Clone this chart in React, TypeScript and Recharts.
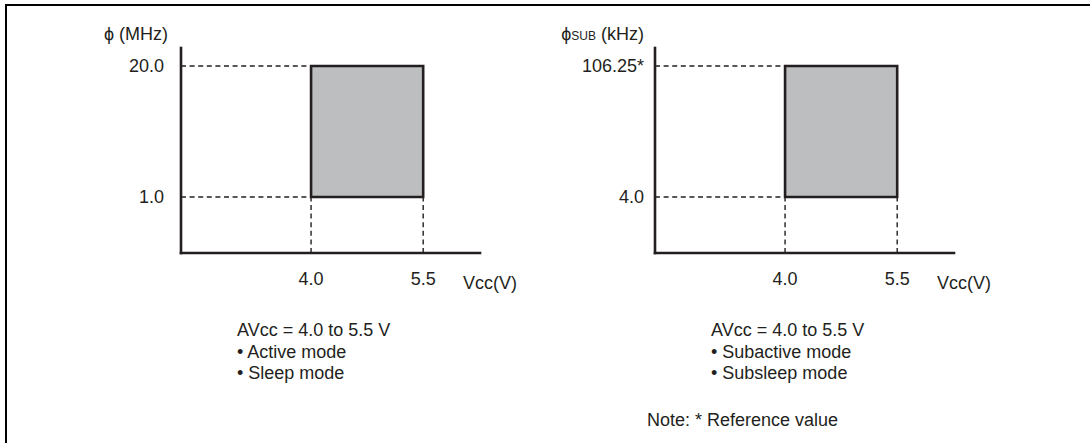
import React from 'react';
import { ComposedChart, XAxis, YAxis, ReferenceArea, ReferenceLine, Scatter, Label } from 'recharts';

// ---- data ----
const vccTicks = [4.0, 5.5];
const vccDomain = [2.26, 6.26];
const phiTicks = [1.0, 20.0];
const phiTickLabels = ['1.0', '20.0'];
const phiDomain = [0.2779, 30.17];
const phiSubTicks = [4.0, 106.25];
const phiSubTickLabels = ['4.0', '106.25*'];
const phiSubDomain = [0.984, 166.8];
const leftNotes = ['AVcc = 4.0 to 5.5 V', '\u2022 Active mode', '\u2022 Sleep mode'];
const rightNotes = ['AVcc = 4.0 to 5.5 V', '\u2022 Subactive mode', '\u2022 Subsleep mode'];
const footnote = 'Note: * Reference value';
const xTitle = 'Vcc(V)';

const INK = '#231f20';
const FILL = '#bcbec0';
const FONT = '"Liberation Sans", Arial, Helvetica, sans-serif';
const FS = 18;

type PanelProps = {
  left: number;
  yTicks: number[];
  yLabels: string[];
  yDomain: number[];
  title: React.ReactNode;
  tickMargin: number;
  titleGap: number;
};

function Panel({ left, yTicks, yLabels, yDomain, title, tickMargin, titleGap }: PanelProps) {
  const [x0, x1] = vccTicks;
  const [y0, y1] = yTicks;
  const corners = [
    { vcc: x0, f: y0 },
    { vcc: x1, f: y0 },
    { vcc: x1, f: y1 },
    { vcc: x0, f: y1 },
  ];
  const dash = { stroke: INK, strokeWidth: 1.4, strokeDasharray: '5 3.6' };
  return (
    <div style={{ position: 'absolute', left, top: 0 }}>
      <ComposedChart
        width={540}
        height={443}
        data={corners}
        margin={{ top: 48, right: 60, bottom: 150, left: 101 }}
      >
        <XAxis
          type="number"
          dataKey="vcc"
          domain={vccDomain}
          ticks={vccTicks}
          interval={0}
          allowDataOverflow
          tickFormatter={(v: number) => v.toFixed(1)}
          axisLine={{ stroke: INK, strokeWidth: 2.6, strokeLinecap: 'square' }}
          tickLine={false}
          tickSize={0}
          tickMargin={19}
          height={40}
          tick={{ fill: INK, fontSize: FS, fontFamily: FONT }}
        >
          <Label
            content={(props: any) => {
              const vb = props.viewBox || { x: 181, y: 253, width: 299, height: 40 };
              return (
                <text x={vb.x + vb.width - 17} y={vb.y + 36} textAnchor="start" fill={INK} fontSize={FS} fontFamily={FONT}>
                  {xTitle}
                </text>
              );
            }}
          />
        </XAxis>
        <YAxis
          type="number"
          dataKey="f"
          scale="log"
          domain={yDomain}
          ticks={yTicks}
          interval={0}
          allowDataOverflow
          tickFormatter={(v: number) => yLabels[yTicks.indexOf(v)] ?? String(v)}
          axisLine={{ stroke: INK, strokeWidth: 2.6, strokeLinecap: 'square' }}
          tickLine={false}
          tickSize={0}
          tickMargin={tickMargin}
          width={80}
          tick={{ fill: INK, fontSize: FS, fontFamily: FONT }}
        >
          <Label
            content={(props: any) => {
              const vb = props.viewBox || { x: 101, y: 48, width: 80, height: 205 };
              return (
                <text x={vb.x + vb.width - titleGap} y={vb.y - 8} textAnchor="end" fill={INK} fontSize={FS} fontFamily={FONT}>
                  {title}
                </text>
              );
            }}
          />
        </YAxis>
        <ReferenceLine ifOverflow="visible" segment={[{ x: vccDomain[0], y: y1 }, { x: x0, y: y1 }]} {...dash} />
        <ReferenceLine ifOverflow="visible" segment={[{ x: vccDomain[0], y: y0 }, { x: x0, y: y0 }]} {...dash} />
        <ReferenceLine ifOverflow="visible" segment={[{ x: x0, y: yDomain[0] }, { x: x0, y: y0 }]} {...dash} />
        <ReferenceLine ifOverflow="visible" segment={[{ x: x1, y: yDomain[0] }, { x: x1, y: y0 }]} {...dash} />
        <ReferenceArea
          ifOverflow="visible"
          x1={x0}
          x2={x1}
          y1={y0}
          y2={y1}
          fill={FILL}
          fillOpacity={1}
          stroke={INK}
          strokeWidth={2.6}
        />
        <Scatter data={corners} dataKey="f" isAnimationActive={false} shape={() => <g />} />
      </ComposedChart>
    </div>
  );
}

export default function App() {
  const lineGap = 21.5;
  const notesTop = 336;
  return (
    <div style={{ position: 'absolute', left: 0, top: 0, width: 1090, height: 443, background: '#fff', overflow: 'hidden' }}>
      <svg width={1090} height={443} style={{ position: 'absolute', left: 0, top: 0 }}>
        <line x1={5} y1={5} x2={1090} y2={5} stroke="#000" strokeWidth={2} />
        <line x1={6} y1={4} x2={6} y2={443} stroke="#000" strokeWidth={2} />
        {leftNotes.map((t, i) => (
          <text key={'l' + i} x={237} y={notesTop + i * lineGap} fill={INK} fontSize={FS} fontFamily={FONT}>
            {t}
          </text>
        ))}
        {rightNotes.map((t, i) => (
          <text key={'r' + i} x={711} y={notesTop + i * lineGap} fill={INK} fontSize={FS} fontFamily={FONT}>
            {t}
          </text>
        ))}
        <text x={647} y={425.5} fill={INK} fontSize={FS} fontFamily={FONT}>
          {footnote}
        </text>
      </svg>
      <Panel
        left={0}
        yTicks={phiTicks}
        yLabels={phiTickLabels}
        yDomain={phiDomain}
        title={'\u03d5 (MHz)'}
        tickMargin={17}
        titleGap={13}
      />
      <Panel
        left={474}
        yTicks={phiSubTicks}
        yLabels={phiSubTickLabels}
        yDomain={phiSubDomain}
        title={
          <>
            {'\u03d5'}
            <tspan fontSize={12}>SUB</tspan>
            {' (kHz)'}
          </>
        }
        tickMargin={11}
        titleGap={11}
      />
    </div>
  );
}
